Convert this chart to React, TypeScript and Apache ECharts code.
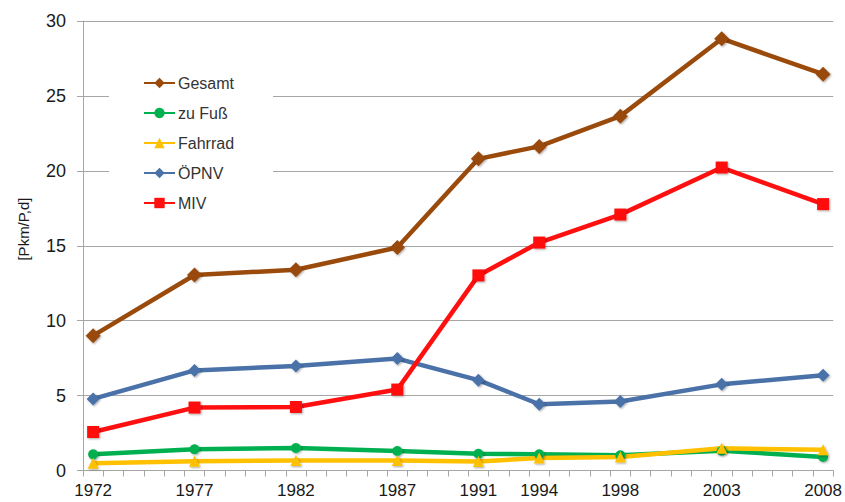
import React, { useEffect, useRef } from "react";
import * as echarts from "echarts";

const years = [1972, 1977, 1982, 1987, 1991, 1994, 1998, 2003, 2008];
const gesamt = [9.0, 13.05, 13.4, 14.88, 20.8, 21.63, 23.65, 28.82, 26.45];
const zuFuss = [1.08, 1.42, 1.5, 1.3, 1.12, 1.08, 1.02, 1.32, 0.9];
const fahrrad = [0.48, 0.62, 0.66, 0.66, 0.6, 0.84, 0.9, 1.48, 1.38];
const oepnv = [4.78, 6.68, 6.98, 7.47, 6.03, 4.42, 4.6, 5.75, 6.35];
const miv = [2.57, 4.2, 4.24, 5.4, 13.02, 15.21, 17.08, 20.22, 17.78];
const yTicks = [0, 5, 10, 15, 20, 25, 30];

const FONT = "'Liberation Sans', Arial, sans-serif";

export default function App() {
  const ref = useRef<HTMLDivElement>(null);
  useEffect(() => {
    if (!ref.current) return;
    const chart = echarts.init(ref.current, null, { renderer: "svg" });
    const yearBounds: number[] = [];
    for (let y = years[0] - 0.5; y <= years[years.length - 1] + 0.5; y += 1) yearBounds.push(y);
    const mk = (arr: number[]) => years.map((y, i) => [y, arr[i]]);
    const shadow = {
      shadowColor: "rgba(0,0,0,0.35)",
      shadowBlur: 2,
      shadowOffsetX: 1,
      shadowOffsetY: 1,
    };
    const series = [
      { name: "Gesamt", data: gesamt, color: "#9A4A0B", symbol: "diamond", size: 15 },
      { name: "zu Fuß", data: zuFuss, color: "#00B050", symbol: "circle", size: 10 },
      { name: "Fahrrad", data: fahrrad, color: "#FFC000", symbol: "triangle", size: 11 },
      { name: "ÖPNV", data: oepnv, color: "#4A72A8", symbol: "diamond", size: 13 },
      { name: "MIV", data: miv, color: "#FF1010", symbol: "rect", size: 12 },
    ].map((s) => ({
      type: "line",
      name: s.name,
      data: mk(s.data),
      symbol: s.symbol,
      symbolSize: s.size,
      showSymbol: true,
      lineStyle: { color: s.color, width: 4.5 },
      itemStyle: { color: s.color, ...shadow },
      color: s.color,
      clip: false,
    }));
    chart.setOption({
      animation: false,
      backgroundColor: "#fff",
      textStyle: { fontFamily: FONT },
      grid: { left: 83, right: 9, top: 21, bottom: 31.5, containLabel: false },
      legend: {
        orient: "vertical",
        left: 109,
        top: 60,
        padding: [15, 39, 22, 34],
        backgroundColor: "#fff",
        itemWidth: 31,
        itemHeight: 13,
        itemGap: 14,
        textStyle: { fontFamily: FONT, fontSize: 16, color: "#333", lineHeight: 16, padding: [0, 0, 0, -2] },
        data: series.map((s) => s.name),
      },
      xAxis: {
        type: "value",
        min: years[0] - 0.5,
        max: years[years.length - 1] + 0.5,
        axisLine: { show: true, lineStyle: { color: "#A6A6A6", width: 1 } },
        axisTick: {
          show: true,
          length: 6,
          customValues: yearBounds,
          lineStyle: { color: "#A6A6A6" },
        },
        axisLabel: {
          customValues: years,
          fontSize: 17,
          color: "#1a1a1a",
          fontFamily: FONT,
          margin: 11,
          formatter: (v: number) => String(Math.round(v)),
        },
        splitLine: { show: false },
      },
      yAxis: {
        type: "value",
        min: yTicks[0],
        max: yTicks[yTicks.length - 1],
        interval: 5,
        axisLine: { show: true, lineStyle: { color: "#A6A6A6", width: 1 } },
        axisTick: { show: true, length: 6, lineStyle: { color: "#A6A6A6" } },
        axisLabel: { fontSize: 18, color: "#1a1a1a", fontFamily: FONT, margin: 17 },
        splitLine: { show: true, lineStyle: { color: "#A6A6A6", width: 1 } },
      },
      graphic: [
        {
          type: "text",
          x: 23,
          y: 229,
          rotation: Math.PI / 2,
          style: {
            text: "[Pkm/P,d]",
            fontSize: 15,
            fontFamily: FONT,
            fill: "#1a1a1a",
            textAlign: "center",
            textVerticalAlign: "middle",
          },
        },
      ],
      series,
    });
    return () => chart.dispose();
  }, []);
  return <div ref={ref} style={{ width: 845, height: 502, position: "absolute", left: 0, top: 0 }} />;
}
